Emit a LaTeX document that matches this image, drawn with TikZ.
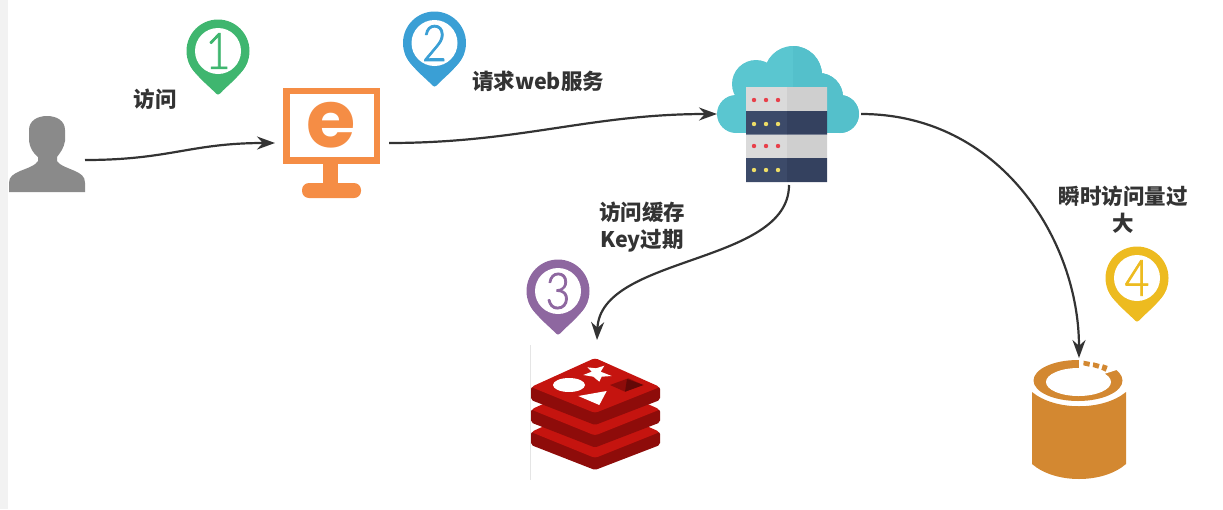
\documentclass[tikz,border=0pt]{standalone}
\usepackage{fontspec}
\setmainfont{Noto Sans CJK SC}
\newfontfamily\digitfont[FakeBold=1.6,FakeStretch=0.85]{Lato Light}
\newfontfamily\letterfont{Poppins}
\usetikzlibrary{arrows.meta}

\definecolor{pingreen}{HTML}{3FB66F}
\definecolor{pinblue}{HTML}{3A9FD5}
\definecolor{pinpurple}{HTML}{8E67A0}
\definecolor{pinyellow}{HTML}{EDBB20}
\definecolor{usergray}{HTML}{8A8A8A}
\definecolor{monitororange}{HTML}{F58D45}
\definecolor{cloudlight}{HTML}{5AC6D0}
\definecolor{clouddark}{HTML}{54C0CB}
\definecolor{rackgray}{HTML}{DADADA}
\definecolor{rackgraydark}{HTML}{CFCFCF}
\definecolor{racknavy}{HTML}{3C4A69}
\definecolor{racknavydark}{HTML}{34415F}
\definecolor{dotred}{HTML}{E8404A}
\definecolor{dotyellow}{HTML}{EEDD66}
\definecolor{redisface}{HTML}{C5140F}
\definecolor{redisside}{HTML}{8E0C0A}
\definecolor{cylorange}{HTML}{D38831}
\definecolor{inkgray}{HTML}{333333}

\tikzset{
  flow/.style={->, draw=inkgray, line width=2.2pt},
  iconbox/.style={inner sep=0pt, outer sep=0pt, minimum width=#1},
  label/.style={text=inkgray, font=\fontsize{21.5}{27}\selectfont\bfseries, align=center, inner sep=0pt},
  digit/.style={font=\digitfont\fontsize{50}{50}\selectfont, inner sep=0pt},
}

% location marker with a number
\newcommand{\pinmark}[5]{
  \begin{scope}[shift={(#1,#2)}]
    \fill[#3] (0,0) circle[radius=31.5];
    \fill[#3] (-29.5,11) .. controls (-24,24) and (-10,34) .. (-2,42.5)
      .. controls (-1,44) and (1,44) .. (2,42.5)
      .. controls (10,34) and (24,24) .. (29.5,11) -- cycle;
    \fill[white] (0,0) circle[radius=23];
    \node[digit, text=#3] (#4) at (0,0) {#5};
  \end{scope}
}
% one slab of the red stack
\newcommand{\redislayer}[1]{
  \begin{scope}[yshift=-#1pt]
    \fill[redisside, rounded corners=2pt] (531,387) -- (531,400) -- (595,425) -- (660,400) -- (660,387) -- cycle;
    \fill[redisface, rounded corners=3pt] (595,358) -- (660,387) -- (595,413) -- (531,387) -- cycle;
  \end{scope}
}
\newcommand{\cloudshape}{
  \fill (736,114) circle[radius=19];
  \fill (756,84) circle[radius=24];
  \fill (793,75) circle[radius=29];
  \fill (819,97) circle[radius=24];
  \fill (840,114) circle[radius=19];
  \fill (736,90) rectangle (840,133);
}

\begin{document}
\begin{tikzpicture}[x=1pt, y=-1pt, >={Stealth[length=18pt, width=13pt]}]
  \useasboundingbox (0,0) rectangle (1223,509);
  \fill[black!5] (0,0) rectangle (8,509);

  % Places the arrows attach to
  \node[iconbox=76pt, minimum height=64pt] (user) at (47,160) {};
  \node[iconbox=114pt, minimum height=110pt] (monitor) at (332,143) {};
  \node[iconbox=144pt, minimum height=142pt] (cloud) at (789,114) {};
  \node[iconbox=130pt, minimum height=136pt] (redis) at (597,408) {};
  \node[iconbox=94pt, minimum height=124pt] (cylinder) at (1079,420) {};

  % User
  \fill[usergray] (9,192) -- (9,183) .. controls (9,176) and (14,174) .. (20,171)
    .. controls (28,168) and (36,165) .. (38,161) -- (38,157)
    .. controls (33,153) and (30,148) .. (29,141) -- (29,130)
    .. controls (29,121) and (37,116) .. (47,116)
    .. controls (57,116) and (65,121) .. (65,130) -- (65,141)
    .. controls (64,148) and (60,153) .. (57,157) -- (57,161)
    .. controls (59,165) and (68,168) .. (75,171)
    .. controls (81,174) and (85,176) .. (85,183) -- (85,192) -- cycle;

  % Monitor
  \fill[monitororange] (283,88) rectangle (380,163.5);
  \fill[white] (289.5,94) rectangle (374,157);
  \fill[monitororange] (323,163) rectangle (338,185);
  \fill[monitororange, rounded corners=7pt] (302,183) rectangle (361,198);
  \node[text=monitororange, font=\letterfont\bfseries\fontsize{80}{80}\selectfont, inner sep=0pt] (letter) at (331,125) {e};

  % Cloud with rack
  \begin{scope}[cloudlight]
    \cloudshape
  \end{scope}
  \begin{scope}[clouddark]
    \clip (793,40) rectangle (870,140);
    \cloudshape
  \end{scope}
  \fill[rackgray] (746,87) rectangle (787,111) (746,134.5) rectangle (787,158);
  \fill[rackgraydark] (787,87) rectangle (827,111) (787,134.5) rectangle (827,158);
  \fill[racknavy] (746,111) rectangle (787,134.5) (746,158) rectangle (787,182);
  \fill[racknavydark] (787,111) rectangle (827,134.5) (787,158) rectangle (827,182);
  \foreach \dotx in {754,766,778} {
    \fill[dotred] (\dotx,100) circle[radius=2.2];
    \fill[dotyellow] (\dotx,124) circle[radius=2.2];
    \fill[dotred] (\dotx,146) circle[radius=2.2];
    \fill[dotyellow] (\dotx,170) circle[radius=2.2];
  }

  % Redis stack
  \draw[black!10] (530,345) -- (530,480);
  \redislayer{45}
  \redislayer{22.5}
  \redislayer{0}
  \fill[white] (569,385) ellipse[x radius=16, y radius=7];
  \fill[white] (604.3,365.7) -- (600.7,371.7) -- (611.7,376) -- (601.7,376.7) -- (599.3,381.7)
    -- (593.3,376.7) -- (583.3,375) -- (591.7,371.7) -- (587.3,367.3) -- (596,368.3) -- cycle;
  \fill[white] (578.3,396) -- (606.7,391) -- (599.3,405) -- cycle;
  \fill[redisside] (610,385) -- (628.3,378.3) -- (643.3,385) -- (625,391.7) -- cycle;
  \fill[redisside!70!black] (627,379) -- (643.3,385) -- (625,391.7) -- cycle;

  % Storage cylinder
  \fill[cylorange] (1032,392) .. controls (1055,411) and (1103,411) .. (1126,392)
    -- (1126,464) .. controls (1103,484) and (1055,484) .. (1032,464) -- cycle;
  \fill[cylorange] (1078,380.5) ellipse[x radius=44.5, y radius=20.5];
  \fill[white] (1078.5,382) ellipse[x radius=32.5, y radius=14];
  \fill[white] (1079,382) -- (1079,350) -- (1129,350) -- (1129,366) -- cycle;
  \fill[cylorange] (1083.7,360.7) -- (1090,362) -- (1089.3,366.7) -- (1083.3,365.3) -- cycle;
  \fill[cylorange] (1093.3,362.3) -- (1099.7,364) -- (1098.3,368.7) -- (1092.7,367) -- cycle;
  \fill[cylorange] (1103,364.3) -- (1107.7,366) -- (1105.7,371.7) -- (1101.3,369.7) -- cycle;

  % Markers
  \pinmark{218}{51}{pingreen}{pinone}{1}
  \pinmark{434.5}{43}{pinblue}{pintwo}{2}
  \pinmark{558}{291}{pinpurple}{pinthree}{3}
  \pinmark{1137}{278}{pinyellow}{pinfour}{4}

  % Labels
  \node[label] (visit) at (155,99) {访问};
  \node[label] (request) at (538,81) {请求web服务};
  \node[label] (expired) at (642,227) {访问缓存\\Key过期};
  \node[label] (burst) at (1123,210) {瞬时访问量过\\大};

  % Arrows
  \draw[flow] (user.east) .. controls (170,160) and (190,143) .. (monitor.west);
  \draw[flow] (monitor.east) .. controls (520,143) and (590,114) .. (cloud.west);
  \draw[flow] (cloud.south) .. controls (789,265) and (600,255) .. (redis.north);
  \draw[flow] (cloud.east) .. controls (1000,114) and (1079,240) .. (cylinder.north);
\end{tikzpicture}
\end{document}
